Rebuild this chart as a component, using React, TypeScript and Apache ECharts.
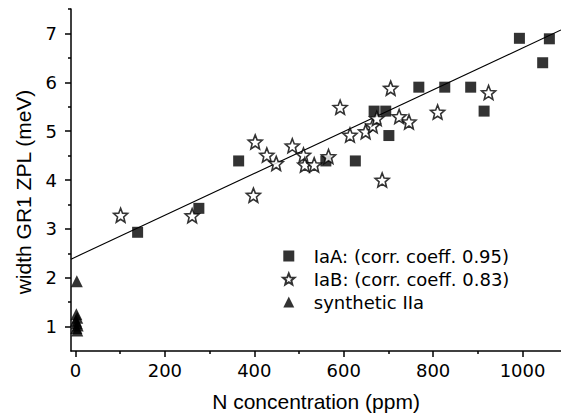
import React, { useEffect, useRef } from "react";
import * as echarts from "echarts";

// IaA diamonds (filled squares)
const iaA: [number, number][] = [
  [139, 2.93], [276, 3.42], [365, 4.39], [560, 4.39], [626, 4.39],
  [701, 4.91], [668, 5.41], [694, 5.41], [914, 5.41], [768, 5.9],
  [826, 5.9], [884, 5.9], [993, 6.9], [1060, 6.89], [1045, 6.4],
];

// IaB diamonds (open stars)
const iaB: [number, number][] = [
  [101, 3.28], [261, 3.27], [398, 3.69], [402, 4.78], [428, 4.51],
  [449, 4.34], [485, 4.7], [510, 4.51], [513, 4.31], [534, 4.31],
  [566, 4.48], [592, 5.49], [614, 4.92], [649, 4.99], [665, 5.11],
  [674, 5.26], [686, 4.0], [705, 5.88], [724, 5.3], [746, 5.19],
  [810, 5.39], [924, 5.79],
];

// synthetic IIa (filled triangles)
const synth: [number, number][] = [
  [3, 1.93], [2, 1.25], [4, 1.18], [1, 1.12], [3, 1.07], [5, 1.02],
  [2, 0.97], [4, 0.92],
];

// linear fit endpoints
const fitLine: [number, number][] = [[-10, 2.38], [1086, 7.07]];

const xMajorTicks = [0, 200, 400, 600, 800, 1000];
const xMinorTicks = [100, 300, 500, 700, 900];
const yMajorTicks = [1, 2, 3, 4, 5, 6, 7];
const yMinorTicks = [1.5, 2.5, 3.5, 4.5, 5.5, 6.5, 7.5];

const seriesNames = [
  "IaA: (corr. coeff. 0.95)",
  "IaB: (corr. coeff. 0.83)",
  "synthetic IIa",
];

function starPath(): string {
  const pts: string[] = [];
  for (let i = 0; i < 10; i++) {
    const a = (-90 + 36 * i) * (Math.PI / 180);
    const r = i % 2 === 0 ? 10 : 4.4;
    const x = 10 + r * Math.cos(a);
    const y = 10 + r * Math.sin(a);
    pts.push((i === 0 ? "M" : "L") + x.toFixed(3) + " " + y.toFixed(3));
  }
  return "path://" + pts.join(" ") + " Z";
}

const squareSymbol = "path://M0 0 L10 0 L10 10 L0 10 Z";
const triangleSymbol = "path://M5 0 L10 10 L0 10 Z";

export default function App() {
  const ref = useRef<HTMLDivElement>(null);
  useEffect(() => {
    const chart = echarts.init(ref.current!, null, { renderer: "svg" });
    const axisLineStyle = { color: "#000", width: 1.5 };
    const tickFont = { fontFamily: "DejaVu Sans", fontSize: 18, color: "#000" };
    const fmt = (v: number) => String(v);
    chart.setOption({
      animation: false,
      backgroundColor: "#fff",
      grid: { left: 71, right: 0, top: 9, bottom: 66, containLabel: false },
      xAxis: [
        {
          type: "value",
          min: -10,
          max: 1086,
          position: "bottom",
          axisLine: { show: true, onZero: false, lineStyle: axisLineStyle },
          axisTick: { show: true, length: 6, customValues: xMajorTicks, lineStyle: axisLineStyle },
          axisLabel: { customValues: xMajorTicks, margin: 10, formatter: fmt, ...tickFont },
          splitLine: { show: false },
          name: "N concentration (ppm)",
          nameLocation: "middle",
          nameGap: 40,
          nameTextStyle: { fontFamily: "Liberation Sans", fontSize: 21, color: "#000" },
        },
        {
          type: "value",
          min: -10,
          max: 1086,
          position: "bottom",
          axisLine: { show: false, onZero: false },
          axisTick: { show: true, length: 3, customValues: xMinorTicks, lineStyle: axisLineStyle },
          axisLabel: { show: false },
          splitLine: { show: false },
        },
      ],
      yAxis: [
        {
          type: "value",
          min: 0.5,
          max: 7.5,
          position: "left",
          axisLine: { show: true, onZero: false, lineStyle: axisLineStyle },
          axisTick: { show: true, length: 6, customValues: yMajorTicks, lineStyle: axisLineStyle },
          axisLabel: { customValues: yMajorTicks, margin: 14, formatter: fmt, ...tickFont },
          splitLine: { show: false },
        },
        {
          type: "value",
          min: 0.5,
          max: 7.5,
          position: "left",
          axisLine: { show: false, onZero: false },
          axisTick: { show: true, length: 3, customValues: yMinorTicks, lineStyle: axisLineStyle },
          axisLabel: { show: false },
          splitLine: { show: false },
        },
      ],
      legend: {
        show: true,
        orient: "vertical",
        left: 277,
        top: 241,
        itemWidth: 40,
        itemHeight: 11,
        itemGap: 3,
        symbolKeepAspect: true,
        selectedMode: false,
        data: seriesNames,
        textStyle: { fontFamily: "DejaVu Sans", fontSize: 18, color: "#000", lineHeight: 20 },
      },
      graphic: [
        {
          type: "text",
          x: 23,
          y: 192,
          rotation: Math.PI / 2,
          style: {
            text: "width GR1 ZPL (meV)",
            fontFamily: "Liberation Sans",
            fontSize: 21,
            fill: "#000",
            textAlign: "center",
            textVerticalAlign: "middle",
          },
        },
      ],
      series: [
        {
          type: "line",
          name: "fit",
          data: fitLine,
          xAxisIndex: 0,
          yAxisIndex: 0,
          symbol: "none",
          lineStyle: { color: "#000", width: 1.1 },
          silent: true,
          z: 1,
        },
        {
          type: "scatter",
          name: seriesNames[0],
          data: iaA,
          xAxisIndex: 0,
          yAxisIndex: 0,
          symbol: squareSymbol,
          symbolSize: 11,
          itemStyle: { color: "#000" },
          z: 2,
        },
        {
          type: "scatter",
          name: seriesNames[1],
          data: iaB,
          xAxisIndex: 0,
          yAxisIndex: 0,
          symbol: starPath(),
          symbolSize: 14,
          itemStyle: { color: "#fff", borderColor: "#000", borderWidth: 1.6 },
          z: 3,
        },
        {
          type: "scatter",
          name: seriesNames[2],
          data: synth,
          xAxisIndex: 0,
          yAxisIndex: 0,
          symbol: triangleSymbol,
          symbolSize: 12,
          itemStyle: { color: "#000" },
          z: 4,
        },
      ],
    });
    return () => chart.dispose();
  }, []);
  return (
    <div
      ref={ref}
      style={{ position: "absolute", left: 0, top: 0, width: 561, height: 417, background: "#fff" }}
    />
  );
}
